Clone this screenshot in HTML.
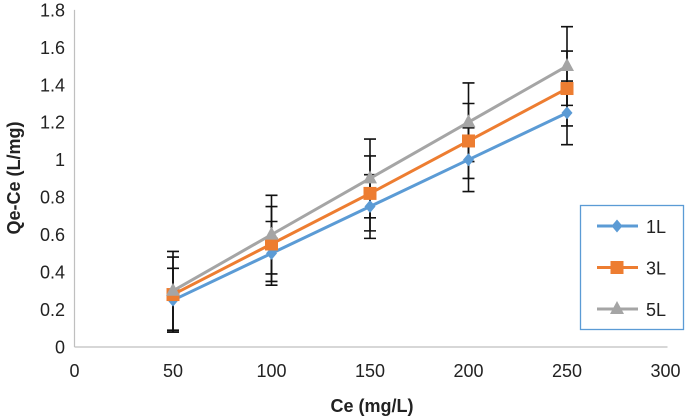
<!DOCTYPE html>
<html><head><meta charset="utf-8"><style>
body{margin:0;background:#fff;}
svg{display:block;font-family:"Liberation Sans",sans-serif;}
</style></head><body>
<svg id="chart" width="685" height="418"></svg>
<script>
const xTicks=[0,50,100,150,200,250,300];
const yTicks=[0,0.2,0.4,0.6,0.8,1,1.2,1.4,1.6,1.8];
const categories=[50,100,150,200,250];
const series1L=[0.25,0.5,0.75,1.0,1.25];
const series3L=[0.28,0.55,0.82,1.1,1.38];
const series5L=[0.3,0.6,0.9,1.2,1.5];
const err1L=[0.17,0.17,0.17,0.17,0.17];
const err3L=[0.2,0.2,0.2,0.2,0.2];
const err5L=[0.21,0.21,0.21,0.21,0.21];
const seriesNames=["1L","3L","5L"];

const NS="http://www.w3.org/2000/svg";
const svg=document.getElementById('chart');
const X=v=>74.5+v*(591/300);
const Y=v=>347-v*187.3;
function mk(tag,attrs,parent){const e=document.createElementNS(NS,tag);for(const k in attrs)e.setAttribute(k,attrs[k]);(parent||svg).appendChild(e);return e;}

let ax=mk('line',{x1:X(0),y1:Y(0),x2:X(300)+2,y2:Y(0),stroke:'#bfbfbf','stroke-width':1.2});


let ay=mk('line',{x1:X(0),y1:Y(0),x2:X(0),y2:Y(1.8),stroke:'#bfbfbf','stroke-width':1.2});



xTicks.forEach(t=>{
  const e=mk('text',{x:X(t),y:377,'text-anchor':'middle','font-size':18,fill:'#222'});
  e.textContent=t;
  
  
});
yTicks.forEach(t=>{
  const e=mk('text',{x:65,y:Y(t)+6.5,'text-anchor':'end','font-size':18,fill:'#222'});
  e.textContent=t;
  
  
});
let xt=mk('text',{x:372,y:412,'text-anchor':'middle','font-size':18,'font-weight':'bold',fill:'#222'});
xt.textContent='Ce (mg/L)';


let yt=mk('text',{x:0,y:0,'text-anchor':'middle','font-size':18,'font-weight':'bold',fill:'#222',transform:'translate(20,178) rotate(-90)'});
yt.textContent='Qe-Ce (L/mg)';



function marker(shape,x,y,color,parent){
  if(shape==='diamond') return mk('path',{d:`M${x} ${y-6.5}L${x+5.5} ${y}L${x} ${y+6.5}L${x-5.5} ${y}Z`,fill:color},parent);
  if(shape==='square') return mk('rect',{x:x-6.5,y:y-6.5,width:13,height:13,fill:color},parent);
  return mk('path',{d:`M${x} ${y-8}L${x+7} ${y+5}L${x-7} ${y+5}Z`,fill:color},parent);
}
const defs=[[series1L,err1L,'#5b9bd5','diamond'],[series3L,err3L,'#ed7d31','square'],[series5L,err5L,'#a5a5a5','triangle']];
defs.forEach((d,si)=>{
  const [vals,errs]=d;
  categories.forEach((c,i)=>{
    const x=X(c),y1=Y(vals[i]+errs[i]),y2=Y(vals[i]-errs[i]);
    const eb=mk('path',{d:`M${x} ${y1}V${y2}M${x-6} ${y1}H${x+6}M${x-6} ${y2}H${x+6}`,stroke:'#111','stroke-width':1.6,fill:'none'});
    
    
  });
});
defs.forEach((d,si)=>{
  const [vals,errs,color,shape]=d;
  const g=mk('g',{});
  
  
  const pts=categories.map((c,i)=>X(c)+','+Y(vals[i])).join(' ');
  mk('polyline',{points:pts,fill:'none',stroke:color,'stroke-width':3},g);
  categories.forEach((c,i)=>{
    const m=marker(shape,X(c),Y(vals[i]),color,g);
    
    
  });
});

const lg=mk('g',{});


mk('rect',{x:580.5,y:205.5,width:103,height:124,fill:'#fff',stroke:'#5b9bd5','stroke-width':1.3},lg);
defs.forEach((d,si)=>{
  const y=226+si*41.5;
  const e=mk('g',{},lg);
  
  
  mk('line',{x1:597,y1:y,x2:638,y2:y,stroke:d[2],'stroke-width':3},e);
  marker(d[3],617,y,d[2],e);
  const t=mk('text',{x:646,y:y+7,'font-size':18,fill:'#222'},e);
  t.textContent=seriesNames[si];
});
</script>
</body></html>
